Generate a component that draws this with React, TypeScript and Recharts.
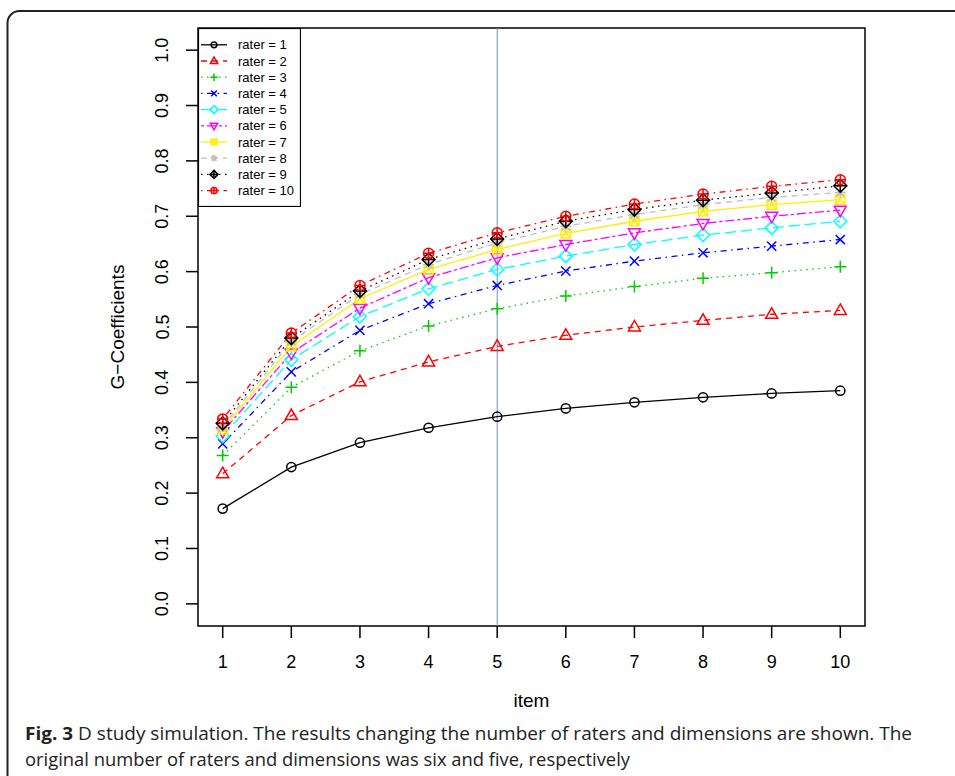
import React from "react";
import {
  LineChart,
  Line,
  XAxis,
  YAxis,
  ReferenceLine,
  ReferenceArea,
  Legend,
} from "recharts";

const items = [1, 2, 3, 4, 5, 6, 7, 8, 9, 10];

const rater1 = [0.172, 0.247, 0.291, 0.318, 0.338, 0.353, 0.364, 0.373, 0.38, 0.385];
const rater2 = [0.235, 0.34, 0.401, 0.437, 0.465, 0.485, 0.5, 0.512, 0.523, 0.53];
const rater3 = [0.268, 0.391, 0.457, 0.502, 0.533, 0.556, 0.573, 0.588, 0.598, 0.609];
const rater4 = [0.289, 0.419, 0.494, 0.542, 0.575, 0.601, 0.619, 0.634, 0.646, 0.658];
const rater5 = [0.303, 0.441, 0.519, 0.569, 0.604, 0.628, 0.649, 0.666, 0.679, 0.691];
const rater6 = [0.311, 0.453, 0.534, 0.589, 0.625, 0.649, 0.67, 0.687, 0.7, 0.711];
const rater7 = [0.315, 0.465, 0.551, 0.604, 0.64, 0.669, 0.691, 0.709, 0.721, 0.73];
const rater8 = [0.32, 0.474, 0.559, 0.613, 0.652, 0.682, 0.703, 0.721, 0.734, 0.743];
const rater9 = [0.326, 0.48, 0.565, 0.622, 0.659, 0.691, 0.712, 0.729, 0.742, 0.755];
const rater10 = [0.334, 0.489, 0.575, 0.633, 0.67, 0.7, 0.722, 0.74, 0.754, 0.766];

const raters = [rater1, rater2, rater3, rater4, rater5, rater6, rater7, rater8, rater9, rater10];
const seriesNames = raters.map((_, i) => `rater = ${i + 1}`);

const seriesColors = [
  "#000000", "#FF0000", "#00CD00", "#0000FF", "#00FFFF",
  "#FF00FF", "#FFEE00", "#BEBEBE", "#000000", "#FF0000",
];
// R lty 1..6, recycled
const seriesDash = [
  "", "6 5", "1.5 4.5", "1.5 4.5 6 4.5", "11 5", "3 3 9 3",
  "", "6 5", "1.5 4.5", "1.5 4.5 6 4.5",
];

const yTicks = [0, 0.1, 0.2, 0.3, 0.4, 0.5, 0.6, 0.7, 0.8, 0.9, 1.0];
const referenceItem = 5;

const data = items.map((item, i) => {
  const row: Record<string, number> = { item };
  raters.forEach((r, k) => {
    row[`r${k + 1}`] = r[i];
  });
  return row;
});

const FONT = "'Liberation Sans', Arial, sans-serif";

function Marker({ shape, cx, cy, color, s = 1 }: any) {
  const p = { fill: "none", stroke: color, strokeWidth: 1.5 };
  const a = (v: number) => v * s;
  switch (shape) {
    case 0:
      return <circle cx={cx} cy={cy} r={a(4.6)} {...p} />;
    case 1:
      return (
        <polygon
          points={`${cx},${cy - a(6.5)} ${cx + a(6)},${cy + a(4)} ${cx - a(6)},${cy + a(4)}`}
          {...p}
        />
      );
    case 2:
      return (
        <path d={`M${cx - a(6)},${cy}H${cx + a(6)}M${cx},${cy - a(6)}V${cy + a(6)}`} {...p} />
      );
    case 3:
      return (
        <path
          d={`M${cx - a(4.6)},${cy - a(4.6)}L${cx + a(4.6)},${cy + a(4.6)}M${cx - a(4.6)},${cy + a(4.6)}L${cx + a(4.6)},${cy - a(4.6)}`}
          {...p}
        />
      );
    case 4:
      return (
        <polygon
          points={`${cx},${cy - a(6.5)} ${cx + a(6.5)},${cy} ${cx},${cy + a(6.5)} ${cx - a(6.5)},${cy}`}
          {...p}
        />
      );
    case 5:
      return (
        <polygon
          points={`${cx},${cy + a(6.5)} ${cx + a(6)},${cy - a(4)} ${cx - a(6)},${cy - a(4)}`}
          {...p}
        />
      );
    case 6:
      return (
        <g {...p}>
          <rect x={cx - a(4.6)} y={cy - a(4.6)} width={a(9.2)} height={a(9.2)} />
          <path
            d={`M${cx - a(4.6)},${cy - a(4.6)}L${cx + a(4.6)},${cy + a(4.6)}M${cx - a(4.6)},${cy + a(4.6)}L${cx + a(4.6)},${cy - a(4.6)}`}
          />
        </g>
      );
    case 7:
      return (
        <path
          d={`M${cx - a(5.5)},${cy}H${cx + a(5.5)}M${cx},${cy - a(5.5)}V${cy + a(5.5)}M${cx - a(4)},${cy - a(4)}L${cx + a(4)},${cy + a(4)}M${cx - a(4)},${cy + a(4)}L${cx + a(4)},${cy - a(4)}`}
          {...p}
        />
      );
    case 8:
      return (
        <g {...p}>
          <polygon
            points={`${cx},${cy - a(6.5)} ${cx + a(6.5)},${cy} ${cx},${cy + a(6.5)} ${cx - a(6.5)},${cy}`}
          />
          <path d={`M${cx - a(6.5)},${cy}H${cx + a(6.5)}M${cx},${cy - a(6.5)}V${cy + a(6.5)}`} />
        </g>
      );
    default:
      return (
        <g {...p}>
          <circle cx={cx} cy={cy} r={a(5)} />
          <path d={`M${cx - a(5)},${cy}H${cx + a(5)}M${cx},${cy - a(5)}V${cy + a(5)}`} />
        </g>
      );
  }
}

function makeDot(k: number) {
  return (props: any) => {
    const { cx, cy, index } = props;
    if (cx == null || cy == null) return <g key={`d${k}-${index}`} />;
    return (
      <Marker key={`d${k}-${index}`} shape={k} cx={cx} cy={cy} color={seriesColors[k]} />
    );
  };
}

function XTick(props: any) {
  const { x, payload } = props;
  return (
    <text x={x} y={668} textAnchor="middle" fontSize={18} fontFamily={FONT} fill="#000">
      {payload.value}
    </text>
  );
}

function YTick(props: any) {
  const { y, payload } = props;
  return (
    <text
      x={168.5}
      y={y}
      transform={`rotate(-90 168.5 ${y})`}
      textAnchor="middle"
      fontSize={18}
      fontFamily={FONT}
      fill="#000"
    >
      {Number(payload.value).toFixed(1)}
    </text>
  );
}

function LegendBox() {
  return (
    <svg width={103} height={179} style={{ display: "block" }}>
      <rect x={0.5} y={0.5} width={102} height={178} fill="#fff" stroke="#000" strokeWidth={1.2} />
      {seriesNames.map((name, k) => {
        const y = 16.8 + k * 16.2;
        return (
          <g key={name}>
            <line
              x1={3}
              x2={29}
              y1={y}
              y2={y}
              stroke={seriesColors[k]}
              strokeWidth={1.3}
              strokeDasharray={seriesDash[k]}
            />
            <Marker shape={k} cx={16} cy={y} color={seriesColors[k]} s={0.62} />
            <text x={40} y={y + 4.6} fontSize={13} fontFamily={FONT} fill="#000">
              {name}
            </text>
          </g>
        );
      })}
    </svg>
  );
}

export default function App() {
  return (
    <div style={{ position: "absolute", left: 0, top: 0, width: 955, height: 776, background: "#fff", overflow: "hidden" }}>
      <svg width={955} height={776} style={{ position: "absolute", left: 0, top: 0 }}>
        <rect x={7.5} y={11} width={1000} height={800} rx={12} fill="#fff" stroke="#222" strokeWidth={2} />
      </svg>
      <div style={{ position: "absolute", left: 0, top: 0 }}>
        <LineChart
          width={955}
          height={776}
          data={data}
          margin={{ top: 28, right: 90, bottom: 120, left: 138 }}
        >
          <XAxis
            dataKey="item"
            type="number"
            domain={[0.64, 10.36]}
            ticks={items}
            allowDataOverflow
            axisLine={false}
            tickLine={{ stroke: "#000", strokeWidth: 1.5 }}
            tickSize={12}
            height={30}
            tick={<XTick />}
            label={(p: any) => (
              <text x={531.5} y={707} textAnchor="middle" fontSize={19} fontFamily={FONT} fill="#000">
                item
              </text>
            )}
          />
          <YAxis
            type="number"
            domain={[-0.04, 1.04]}
            ticks={yTicks}
            allowDataOverflow
            axisLine={false}
            tickLine={{ stroke: "#000", strokeWidth: 1.5 }}
            tickSize={12}
            width={60}
            tick={<YTick />}
            label={(p: any) => (
              <text
                x={124}
                y={327}
                transform="rotate(-90 124 327)"
                textAnchor="middle"
                fontSize={19}
                fontFamily={FONT}
                fill="#000"
              >
                G−Coefficients
              </text>
            )}
          />
          <ReferenceArea
            x1={0.64}
            x2={10.36}
            y1={-0.04}
            y2={1.04}
            fill="none"
            fillOpacity={0}
            stroke="#000"
            strokeWidth={1.5}
          />
          <ReferenceLine x={referenceItem} stroke="#7090C8" strokeWidth={1} />
          {raters.map((_, k) => (
            <Line
              key={k}
              dataKey={`r${k + 1}`}
              name={seriesNames[k]}
              type="linear"
              stroke={seriesColors[k]}
              strokeWidth={1.3}
              strokeDasharray={seriesDash[k]}
              dot={makeDot(k)}
              activeDot={false}
              isAnimationActive={false}
            />
          ))}
          <Legend
            layout="vertical"
            align="center"
            verticalAlign="middle"
            content={() => <LegendBox />}
            wrapperStyle={{ position: "absolute", left: 198, top: 28, width: 103, height: 179 }}
          />
        </LineChart>
      </div>
      <svg width={955} height={776} style={{ position: "absolute", left: 0, top: 0, pointerEvents: "none" }}>
        <text
          x={25}
          y={740}
          fontSize={18.5}
          fontFamily="'Open Sans', sans-serif"
          fill="#222"
          textLength={887}
          lengthAdjust="spacingAndGlyphs"
        >
          <tspan fontWeight="bold">Fig. 3</tspan> D study simulation. The results changing the number of raters and dimensions are shown. The
        </text>
        <text
          x={25}
          y={766}
          fontSize={18.5}
          fontFamily="'Open Sans', sans-serif"
          fill="#222"
          textLength={605}
          lengthAdjust="spacingAndGlyphs"
        >
          original number of raters and dimensions was six and five, respectively
        </text>
      </svg>
    </div>
  );
}
